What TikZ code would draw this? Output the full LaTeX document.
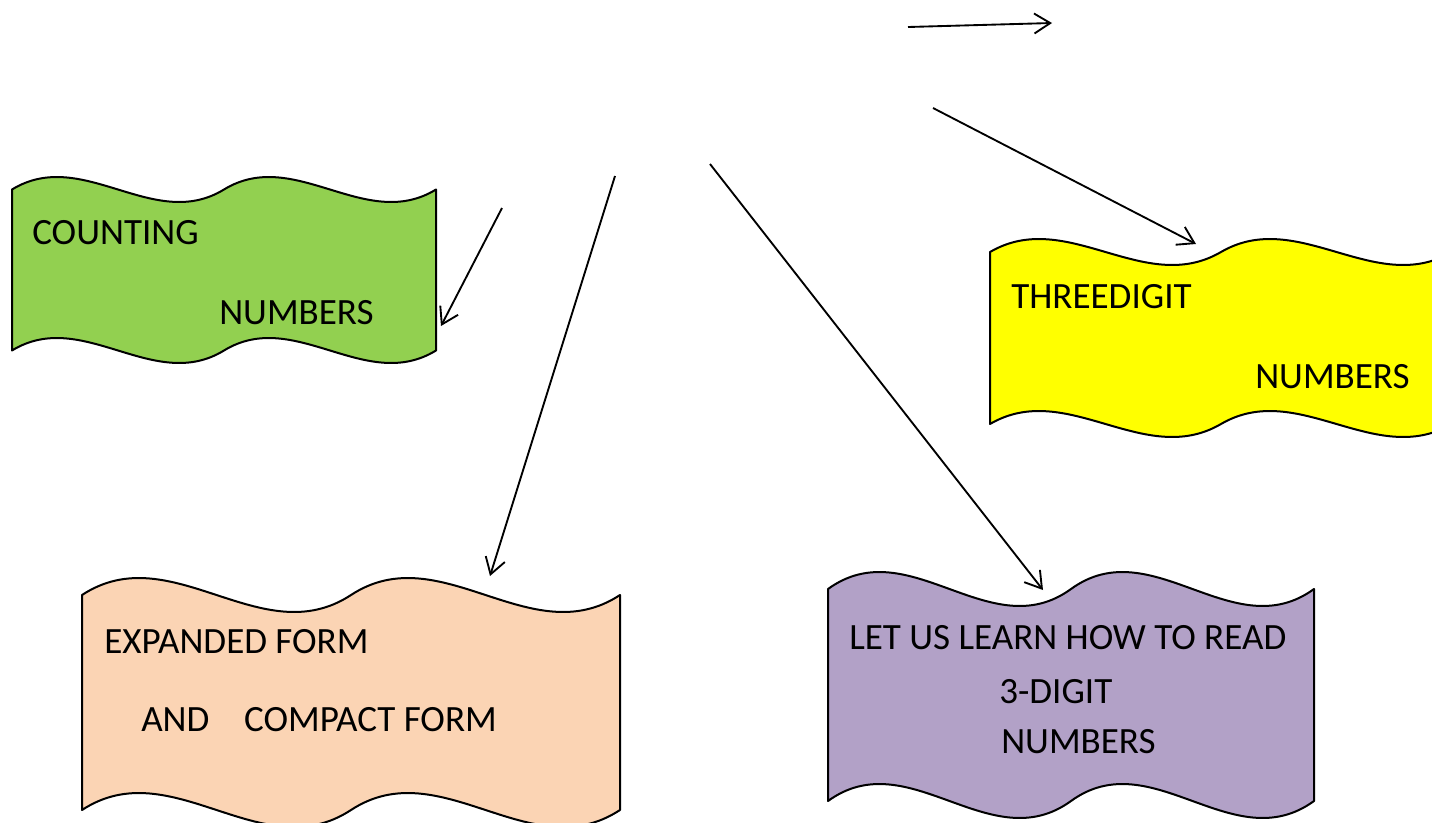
\documentclass[tikz,border=0pt]{standalone}
\usepackage{fontspec}
\setmainfont{Carlito}
\usetikzlibrary{arrows.meta}
\definecolor{boxgreen}{HTML}{92D050}
\definecolor{boxyellow}{HTML}{FFFF00}
\definecolor{boxpeach}{HTML}{FBD4B4}
\definecolor{boxpurple}{HTML}{B2A1C7}
\tikzset{
  boxline/.style={draw=black, line width=1.5pt, line join=round},
  lbl/.style={anchor=west, inner sep=0pt, font=\fontsize{27.8}{33}\selectfont},
  conn/.style={draw=black, line width=1.4pt, -{Straight Barb[length=12pt,width=15pt,line width=1.4pt]}}
}
% double wave box: L R yt yb A fill
\newcommand{\wavebox}[6]{%
  \pgfmathsetmacro\wvH{(#2-#1)/2}%
  \pgfmathsetmacro\wvK{3.46*#5}%
  \pgfmathsetmacro\wvA{#1+\wvH/3}%
  \pgfmathsetmacro\wvB{#1+2*\wvH/3}%
  \pgfmathsetmacro\wvC{#1+\wvH}%
  \pgfmathsetmacro\wvD{\wvC+\wvH/3}%
  \pgfmathsetmacro\wvE{\wvC+2*\wvH/3}%
  \filldraw[boxline, fill=#6] (#1,#3)
    .. controls (\wvA,#3-\wvK) and (\wvB,#3+\wvK) .. (\wvC,#3)
    .. controls (\wvD,#3-\wvK) and (\wvE,#3+\wvK) .. (#2,#3)
    -- (#2,#4)
    .. controls (\wvE,#4+\wvK) and (\wvD,#4-\wvK) .. (\wvC,#4)
    .. controls (\wvB,#4+\wvK) and (\wvA,#4-\wvK) .. (#1,#4)
    -- cycle;}
\begin{document}
\begin{tikzpicture}[x=0.75pt,y=-0.75pt]
\useasboundingbox (0,0) rectangle (1432,822);
\clip (0,0) rectangle (1432,822);
\fill[white] (0,0) rectangle (1432,822);

% boxes
\wavebox{12}{436}{189.5}{350.5}{12.5}{boxgreen}
\wavebox{990}{1452}{252}{424}{13}{boxyellow}
\wavebox{82}{620}{595}{810}{17}{boxpeach}
\wavebox{828}{1314}{589}{801}{17}{boxpurple}

% labels
\node[lbl] (g1) at (32,233) {COUNTING};
\node[lbl] (g2) at (219,313) {NUMBERS};
\node[lbl] (y1) at (1011,297) {THREEDIGIT};
\node[lbl] (y2) at (1255,377) {NUMBERS};
\node[lbl] (o1) at (104,642) {EXPANDED FORM};
\node[lbl] (o2) at (141,720) {AND\hspace{26pt}COMPACT FORM};
\node[lbl] (p1) at (849,638) {LET US LEARN HOW TO READ};
\node[lbl] (p2) at (999,692) {3-DIGIT};
\node[lbl] (p3) at (1001,742) {NUMBERS};

% connector end points
\coordinate (s1) at (908,27);
\coordinate (e1) at (1052,23);
\coordinate (s2) at (933,108);
\coordinate (e2) at (1196,244);
\coordinate (s3) at (502,208);
\coordinate (e3) at (441,326);
\coordinate (s4) at (615,176);
\coordinate (e4) at (490,576);
\coordinate (s5) at (710,164);
\coordinate (e5) at (1043,590);

\draw[conn] (s1) -- (e1);
\draw[conn] (s2) -- (e2);
\draw[conn] (s3) -- (e3);
\draw[conn] (s4) -- (e4);
\draw[conn] (s5) -- (e5);
\end{tikzpicture}
\end{document}
